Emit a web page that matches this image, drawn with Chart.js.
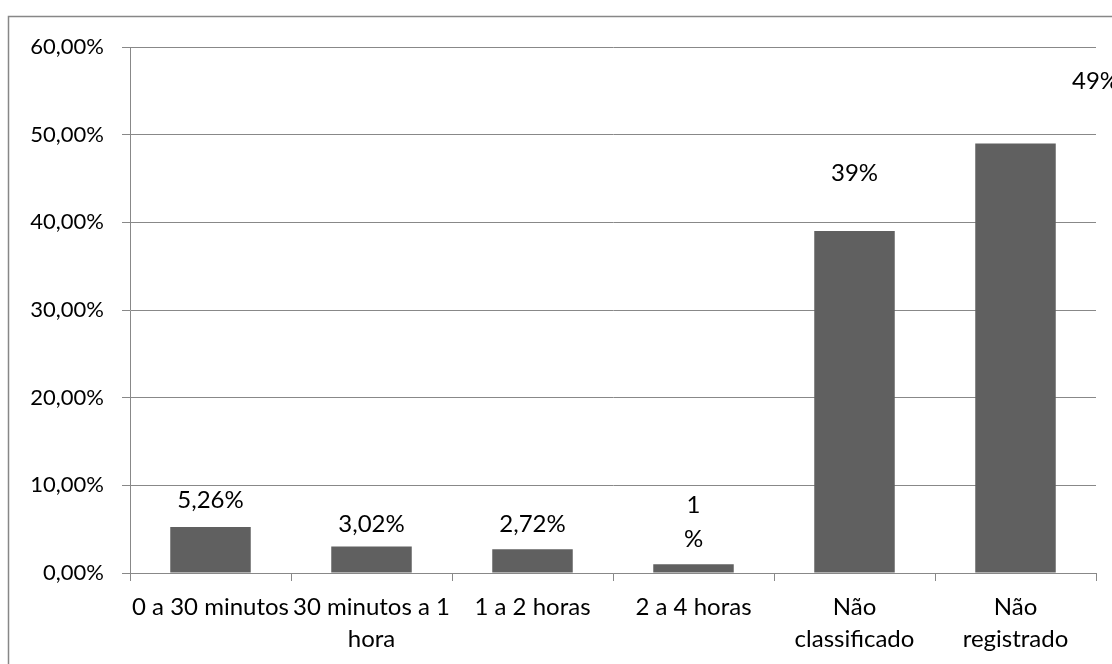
<!DOCTYPE html>
<html><head><meta charset="utf-8">
<script src="https://cdn.jsdelivr.net/npm/chart.js@4/dist/chart.umd.min.js"></script>
<style>html,body{margin:0;padding:0;background:#fff}#wrap{width:1112px;height:664px;position:relative}</style>
</head><body><div id="wrap"><canvas id="c" width="1112" height="664"></canvas></div>
<script>
const categories = [["0 a 30 minutos"], ["30 minutos a 1", "hora"], ["1 a 2 horas"], ["2 a 4 horas"], ["Não", "classificado"], ["Não", "registrado"]];
const values = [5.26, 3.02, 2.72, 1, 39, 49];
const valueLabels = [["5,26%"], ["3,02%"], ["2,72%"], ["1", "%"], ["39%"], ["49%"]];
const yTicks = [0, 10, 20, 30, 40, 50, 60];

const FONT = "Lato, 'Open Sans', sans-serif";
const FS = 24;
const labelOffsets = [
  {dx: 0, dy: -27}, {dx: 0, dy: -22}, {dx: 0, dy: -25}, {dx: 0, dy: -25},
  {dx: 0, dy: -58}, {dx: 80, dy: -62}
];

const frame = {
  id: 'frame',
  beforeDraw(chart) {
    const ctx = chart.ctx;
    ctx.save();
    ctx.fillStyle = '#fff';
    ctx.fillRect(0, 0, chart.width, chart.height);
    ctx.strokeStyle = '#878787';
    ctx.lineWidth = 1.5;
    ctx.strokeRect(8.5, 16.5, 1120, 680);
    ctx.restore();
  }
};

const dataLabels = {
  id: 'dataLabels',
  afterDatasetsDraw(chart) {
    const ctx = chart.ctx;
    const meta = chart.getDatasetMeta(0);
    ctx.save();
    ctx.font = FS + "px " + FONT;
    ctx.fillStyle = '#000';
    ctx.textAlign = 'center';
    ctx.textBaseline = 'middle';
    meta.data.forEach((bar, i) => {
      const lines = valueLabels[i];
      const off = labelOffsets[i];
      const lh = 34;
      lines.forEach((t, k) => {
        const y = bar.y + off.dy - (lines.length - 1 - k) * lh;
        ctx.fillText(t, bar.x + off.dx, y);
      });
    });
    ctx.restore();
  }
};

new Chart(document.getElementById('c'), {
  type: 'bar',
  data: {
    labels: categories,
    datasets: [{
      data: values,
      backgroundColor: '#606060',
      borderWidth: 0,
      barPercentage: 0.5,
      categoryPercentage: 1.0
    }]
  },
  options: {
    responsive: false,
    animation: false,
    layout: {padding: {top: 47, right: 16, bottom: 0, left: 0}},
    plugins: {legend: {display: false}, tooltip: {enabled: false}},
    scales: {
      x: {
        grid: {display: true, drawOnChartArea: false, drawTicks: true, tickLength: 8, color: '#888', offset: true},
        border: {color: '#888', width: 1},
        ticks: {color: '#000', font: {size: FS, family: FONT, lineHeight: 1.33}, autoSkip: false, maxRotation: 0, minRotation: 0, padding: 10},
        afterFit(s) { s.height = 91; }
      },
      y: {
        min: 0, max: 60,
        afterBuildTicks(s) { s.ticks = yTicks.map(v => ({value: v})); },
        grid: {color: '#888', tickLength: 8},
        border: {color: '#888', width: 1},
        ticks: {color: '#000', font: {size: 22, family: FONT}, padding: 18,
          callback: v => v.toFixed(2).replace('.', ',') + '%'},
        afterFit(s) { s.width = 130; }
      }
    }
  },
  plugins: [frame, dataLabels]
});
</script></body></html>
